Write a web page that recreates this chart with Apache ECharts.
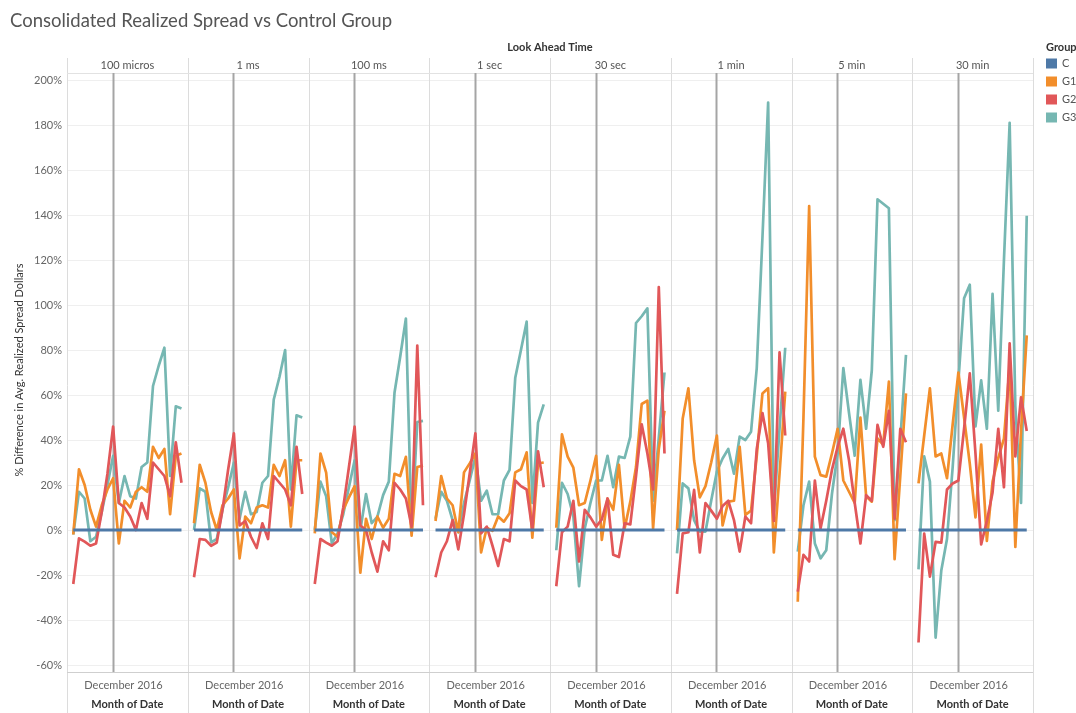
<!DOCTYPE html>
<html><head><meta charset="utf-8">
<script src="https://cdn.jsdelivr.net/npm/echarts@6/dist/echarts.min.js"></script>
<style>html,body{margin:0;padding:0;background:#fff}#c{width:1076px;height:713px}</style>
</head><body><div id="c"></div>
<script>
// ---------- data ----------
const PANELS = ['100 micros', '1 ms', '100 ms', '1 sec', '30 sec', '1 min', '5 min', '30 min'];
const GROUPS = ['C', 'G1', 'G2', 'G3'];
const DAYS = [0, 1, 2, 3, 4, 5, 6, 7, 8, 9, 10, 11, 12, 13, 14, 15, 16, 17, 18, 19];
const MONTH_TICK = 6.9;           // "December 2016" reference position along the day index
const MONTH_LABEL = 'December 2016';

const C_values = [0, 0, 0, 0, 0, 0, 0, 0, 0, 0, 0, 0, 0, 0, 0, 0, 0, 0, 0, 0];

const G1_100micros = [-2, 27, 20, 9, 1.5, 11, 18, 23, -6, 13, 10, 17, 19, 17, 37, 32, 36, 7, 33, 34];
const G2_100micros = [-24, -3.7, -5.2, -7, -6, 8, 25, 46, 12, 10, 6, 0, 12, 5, 30, 27, 24, 15, 39, 21];
const G3_100micros = [-2, 17, 14, -5, -3, 8, 20, 33, 12, 24, 15, 14, 28, 30, 64, 73, 81, 24, 55, 54];

const G1_1ms = [3, 29, 21, 8, 0, 11, 14, 18, -12.6, 6, 3, 10, 11, 10, 29, 24, 31, 1.5, 31, 31];
const G2_1ms = [-21, -4, -4.4, -7, -5.6, 9, 27, 43, 2, 4, -3, -8, 3, -4, 24, 21, 18, 11, 37, 16];
const G3_1ms = [0, 18.5, 17, -5.5, -4, 9, 19, 30, 5, 17, 7, 8, 21, 24, 58, 68, 80, 18, 51, 50];

const G1_100ms = [-1.5, 34, 25.5, -1, -3, 9, 14.5, 19.5, -19, 5, -4, 6, 1, 5, 25, 24, 32.5, -2.5, 28, 28.6];
const G2_100ms = [-24, -4, -5.6, -7, -5, 10, 28, 46, 2, 0, -10, -18.5, -5, -9, 21, 18, 14, 1.5, 82, 11];
const G3_100ms = [0, 21.5, 15, -6, -1.5, 7, 19, 31, 0, 16, 3, 6, 15.5, 21.5, 61, 77, 94, 0, 48, 48.5];

const G1_1sec = [4, 24, 14, 11, -1, 25.6, 29.6, 34, -10, 1, -0.4, 6, 3.7, 7.4, 25.6, 27, 34.5, -3.4, 29.6, 30];
const G2_1sec = [-21, -10, -5, 4.4, -8.6, 7, 25, 43, -1.5, 1.5, -7, -16, -4, -5, 22, 19.5, 18, 0, 35, 19];
const G3_1sec = [5, 17, 13, 4.4, -1, 12, 22, 32.6, 13, 17.5, 7, 7, 22, 26.7, 67.7, 80, 92.6, 12, 47.7, 55.8];

const G1_30sec = [1, 42.5, 32.6, 27.7, 11, 12, 22, 33, -4.4, 14, 9, 29, 0.7, 12.6, 28, 56, 57.5, 0.7, 36, 53];
const G2_30sec = [-25, -1, 1.5, 13, -14, 9, 5.6, 1.5, 4.7, 14, -11, -12, 3, 2.5, 24, 47, 34, 18, 108, 34];
const G3_30sec = [-9, 21, 16, 6, -25, 0.7, 12, 22, 22, 33, 19, 32.6, 32, 41.5, 92, 95, 98.5, 13, 41, 70];

const G1_1min = [0, 49.6, 63, 31, 14.5, 19.5, 30, 42, 2, 12.6, 13, 37, 6.7, 8.6, 33, 60.7, 63, -10, 25, 61.5];
const G2_1min = [-28.4, -1.5, -1, 17.8, -10, 12, 8.6, 5, 10.7, 13, 4.4, -9.6, 6, 3, 36, 52, 38.5, 4, 79, 42];
const G3_1min = [-10.4, 20.7, 18.5, 4.4, -0.7, -0.7, 13, 26, 31.8, 36, 25, 41.5, 40, 43.7, 72, 130, 190, 8, 45, 81];

const G1_5min = [-31.9, 50, 144, 32.6, 24.4, 23.7, 34, 45, 22, 17, 12, 50, 15, 12.6, 40.7, 37.8, 66, -13, 24, 60.7];
const G2_5min = [-27.4, -11, -14, 22, 0.7, 13, 26.7, 37, 45, 31, 12, -6, 15.5, 13, 46.7, 37, 53, 5, 45, 39];
const G3_5min = [-9.6, 11, 21.5, -6, -12.6, -9, 16, 34, 72, 52, 33, 66.7, 45, 71, 147, 145, 143, 4.4, 40, 77.8];

const G1_30min = [20.7, 42, 63, 32.7, 34, 23, 47, 70, 50, 29.5, 5.6, 38, -4.8, 21.5, 32, 40.6, 73, -7.5, 44, 86.5];
const G2_30min = [-50, -1.6, -20.7, -5.3, -5.6, 18, 20.7, 22, 45, 69.6, 34, -6.4, 4, 16.7, 45, 19, 83, 32.7, 59, 44];
const G3_30min = [-17.5, 32.7, 21.5, -47.8, -18, -4, 28, 66, 103, 109, 46, 66.5, 45, 105, 53, 120, 181, 55, 12, 139.7];

// ---------- assembly ----------
const SERIES_BY_GROUP = {
  C: [C_values, C_values, C_values, C_values, C_values, C_values, C_values, C_values],
  G1: [G1_100micros, G1_1ms, G1_100ms, G1_1sec, G1_30sec, G1_1min, G1_5min, G1_30min],
  G2: [G2_100micros, G2_1ms, G2_100ms, G2_1sec, G2_30sec, G2_1min, G2_5min, G2_30min],
  G3: [G3_100micros, G3_1ms, G3_100ms, G3_1sec, G3_30sec, G3_1min, G3_5min, G3_30min]
};
const COLORS = { C: '#4e79a7', G1: '#f28e2b', G2: '#e15759', G3: '#76b7b2' };
const DRAW_ORDER = ['G3', 'G1', 'G2', 'C'];

const FONT = 'Lato, "Noto Sans", sans-serif';
const PLOT_L = 67, PLOT_R = 1033, PANEL_W = (PLOT_R - PLOT_L) / PANELS.length;
const PLOT_TOP = 73, PLOT_BOTTOM = 672;
const GRID_TOP = 80, GRID_BOTTOM = 665;
const Y_MIN = -60, Y_MAX = 200;

const grids = [], xAxes = [], yAxes = [], series = [], graphics = [];

PANELS.forEach((name, p) => {
  const left = PLOT_L + p * PANEL_W;
  grids.push({ left: left, width: PANEL_W, top: GRID_TOP, height: GRID_BOTTOM - GRID_TOP, containLabel: false });
  xAxes.push({
    type: 'value', gridIndex: p, min: -1.1, max: 20.1,
    axisLine: { show: false }, axisTick: { show: false }, axisLabel: { show: false }, splitLine: { show: false }
  });
  yAxes.push({
    type: 'value', gridIndex: p, min: Y_MIN, max: Y_MAX, interval: 20,
    axisLine: { show: false }, axisTick: { show: false },
    axisLabel: { show: p === 0, formatter: '{value}%', color: '#666', fontSize: 11, fontFamily: FONT, margin: 5 },
    splitLine: { show: true, lineStyle: { color: '#efefef', width: 1 } }
  });
  DRAW_ORDER.forEach(g => {
    const vals = SERIES_BY_GROUP[g][p];
    series.push({
      type: 'line', name: g, xAxisIndex: p, yAxisIndex: p,
      data: DAYS.map((d, i) => [d, vals[i]]),
      symbol: 'none', showSymbol: false, silent: true, animation: false, z: 2,
      lineStyle: { color: COLORS[g], width: g === 'C' ? 3 : 2.7, join: 'round' },
      itemStyle: { color: COLORS[g] }
    });
  });
  graphics.push({ type: 'text', x: left + PANEL_W / 2, y: 65, silent: true,
    style: { text: name, fill: '#555', font: '11px ' + FONT, textAlign: 'center', textVerticalAlign: 'middle' } });
  graphics.push({ type: 'text', x: left + 56.5, y: 685, silent: true,
    style: { text: MONTH_LABEL, fill: '#666', font: '11px ' + FONT, textAlign: 'center', textVerticalAlign: 'middle' } });
  graphics.push({ type: 'text', x: left + PANEL_W / 2, y: 704, silent: true,
    style: { text: 'Month of Date', fill: '#333', font: 'bold 11px ' + FONT, textAlign: 'center', textVerticalAlign: 'middle' } });
});

for (let i = 0; i <= PANELS.length; i++) {
  const x = Math.round(PLOT_L + i * PANEL_W) + 0.5;
  graphics.push({ type: 'line', shape: { x1: x, y1: 58, x2: x, y2: 713 }, style: { stroke: '#dcdcdc', lineWidth: 1 }, z: 0, silent: true });
}
graphics.push({ type: 'line', shape: { x1: PLOT_L, y1: PLOT_TOP + 0.5, x2: PLOT_R, y2: PLOT_TOP + 0.5 }, style: { stroke: '#e2e2e2', lineWidth: 1 }, z: 0, silent: true });
graphics.push({ type: 'line', shape: { x1: PLOT_L, y1: PLOT_BOTTOM + 0.5, x2: PLOT_R, y2: PLOT_BOTTOM + 0.5 }, style: { stroke: '#cfcfcf', lineWidth: 1 }, z: 0, silent: true });
graphics.push({ type: 'text', x: (PLOT_L + PLOT_R) / 2, y: 47, silent: true,
  style: { text: 'Look Ahead Time', fill: '#333', font: 'bold 11px ' + FONT, textAlign: 'center', textVerticalAlign: 'middle' } });
graphics.push({ type: 'text', x: 1046, y: 47, silent: true,
  style: { text: 'Group', fill: '#333', font: 'bold 11px ' + FONT, textAlign: 'left', textVerticalAlign: 'middle' } });
graphics.push({ type: 'text', x: 19, y: 370, rotation: Math.PI / 2, silent: true,
  style: { text: '% Difference in Avg. Realized Spread Dollars', fill: '#333', font: '11px ' + FONT, textAlign: 'center', textVerticalAlign: 'middle' } });

const chart = echarts.init(document.getElementById('c'), null, { renderer: 'canvas' });
chart.setOption({
  backgroundColor: '#fff',
  animation: false,
  title: { text: 'Consolidated Realized Spread vs Control Group', left: 5, top: 7,
    textStyle: { fontSize: 18.5, fontWeight: 'normal', color: '#555', fontFamily: FONT } },
  legend: {
    data: GROUPS, orient: 'vertical', left: 1046, top: 58, padding: 0, itemGap: 7,
    itemWidth: 11, itemHeight: 10, icon: 'rect', selectedMode: false,
    textStyle: { fontSize: 11, color: '#555', fontFamily: FONT }
  },
  grid: grids, xAxis: xAxes, yAxis: yAxes, series: series
});

// month reference lines, positioned through each panel's x scale
PANELS.forEach((name, p) => {
  const px = chart.convertToPixel({ xAxisIndex: p }, MONTH_TICK);
  const x = Math.round(px) + 0.5;
  graphics.push({ type: 'line', shape: { x1: x, y1: PLOT_TOP, x2: x, y2: PLOT_BOTTOM },
    style: { stroke: '#a5a5a5', lineWidth: 2 }, z: 1, silent: true });
});
chart.setOption({ graphic: graphics });
</script></body></html>
